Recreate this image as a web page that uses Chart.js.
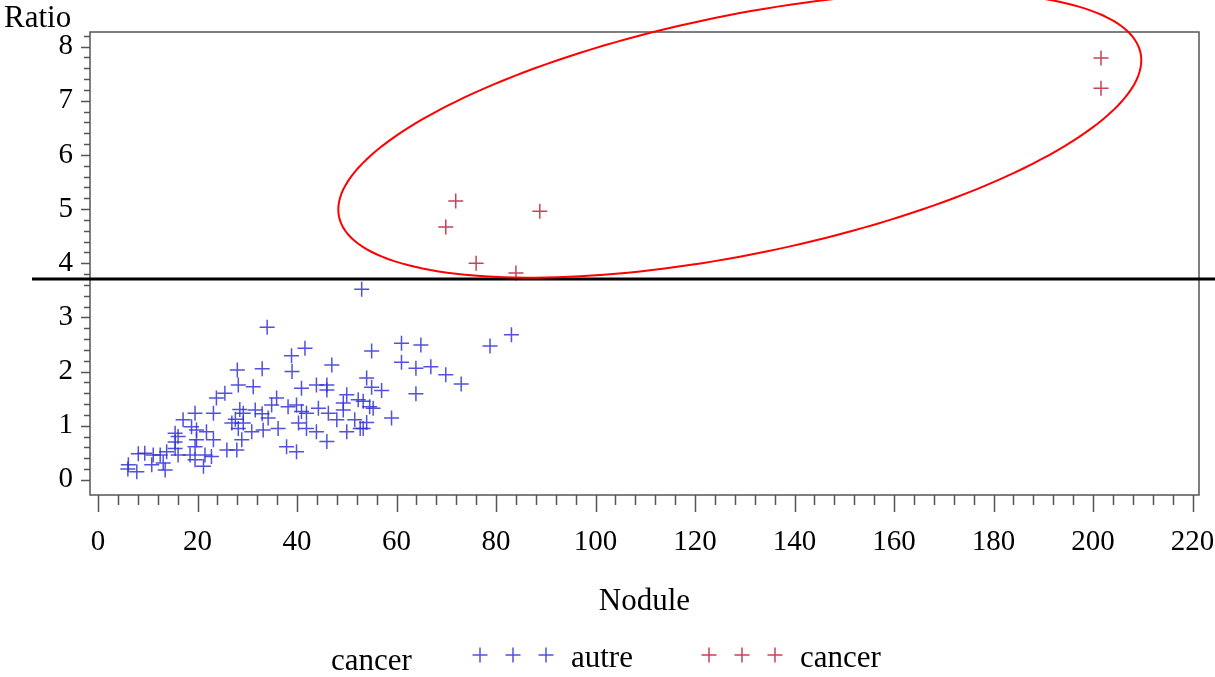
<!DOCTYPE html>
<html>
<head>
<meta charset="utf-8">
<script src="https://cdn.jsdelivr.net/npm/chart.js@4.4.1/dist/chart.umd.min.js"></script>
<style>
  body { margin: 0; background: #fff; }
  canvas { display: block; }
</style>
</head>
<body>
<canvas id="nodChart" width="1215" height="677"></canvas>
<script>
// values
const autreNodule = [6.1, 7.8, 8.1, 9.4, 10.8, 12.5, 13.5, 15.5, 15.5, 17.1, 19.5, 18.8, 19.8, 18.5, 19.5, 21.2, 19.8, 21.8, 23.2, 23.2,
    23.8, 25.5, 21.5, 22.8, 25.9, 26.9, 6.0, 11.1, 13.8, 13.1, 16.1, 15.5, 16.1, 19.5, 27.6, 28.5, 28.2, 31.2, 40.9, 43.9,
    46.0, 46.0, 35.9, 34.9, 38.2, 39.9, 40.9, 41.9, 44.3, 46.3, 50.0, 49.3, 49.3, 52.3, 48.0, 51.6, 52.7, 50.0, 43.9, 41.9,
    40.3, 46.0, 36.2, 33.2, 34.2, 31.6, 29.2, 29.2, 28.2, 30.9, 28.9, 27.9, 37.9, 39.9, 33.0, 53.0, 34.0, 41.6, 38.9, 55.0,
    47.0, 33.0, 28.0, 39.0, 54.0, 83.1, 78.8, 61.0, 64.9, 61.0, 63.9, 66.9, 69.9, 73.0, 63.9, 55.0, 57.0, 53.3, 55.3, 59.0,
    54.0, 53.3, 54.6];
const autreRatio = [0.28, 0.15, 0.48, 0.49, 0.28, 0.46, 0.18, 0.58, 0.86, 1.11, 1.23, 0.98, 0.92, 0.46, 0.37, 0.25, 0.74, 0.89, 0.74, 1.23,
    1.51, 1.60, 0.46, 0.43, 0.55, 1.05, 0.20, 0.46, 0.52, 0.31, 0.80, 0.70, 0.46, 0.61, 1.12, 1.30, 1.75, 1.72, 1.69, 1.75,
    1.75, 1.66, 1.51, 1.38, 1.35, 1.38, 1.26, 1.23, 1.32, 1.23, 1.57, 1.42, 1.29, 1.48, 1.11, 1.11, 0.95, 0.89, 0.89, 0.95,
    1.05, 0.71, 0.95, 0.92, 1.14, 1.29, 1.23, 1.05, 0.95, 0.89, 0.74, 0.55, 0.61, 0.52, 1.22, 3.52, 2.82, 2.43, 2.29, 2.38,
    2.12, 2.05, 2.03, 2.00, 1.88, 2.68, 2.47, 2.52, 2.49, 2.17, 2.06, 2.09, 1.94, 1.77, 1.59, 1.71, 1.65, 1.45, 1.32, 1.14,
    1.06, 0.95, 1.35];
const cancerNodule = [201.6, 201.6, 71.9, 69.9, 88.8, 76.0, 84.0];
const cancerRatio = [7.79, 7.23, 5.15, 4.67, 4.96, 4.00, 3.82];

const groupLabels = ['autre', 'cancer'];
const groupTitle = 'cancer';
const xTitle = 'Nodule';
const yTitle = 'Ratio';
const cutRatio = 3.71;                 // horizontal reference line
const ellipseCenter = [129.0, 6.37];   // nodule, ratio
const ellipseAxisU = [80.7, 1.378];
const ellipseAxisV = [0, 2.249];

const serif = "'Liberation Serif', 'Times New Roman', serif";
const blue = 'rgba(50, 50, 215, 0.85)';
const red = 'rgba(195, 45, 70, 0.9)';

function toPoints(xs, ys) {
    return xs.map((v, i) => ({ x: v, y: ys[i] }));
}

function plus(ctx, px, py, r, color) {
    ctx.strokeStyle = color;
    ctx.lineWidth = 1.5;
    ctx.beginPath();
    ctx.moveTo(px - r, py); ctx.lineTo(px + r, py);
    ctx.moveTo(px, py - r); ctx.lineTo(px, py + r);
    ctx.stroke();
}

const frameAndTicks = {
    id: 'frameAndTicks',
    beforeDatasetsDraw(chart) {
        const { ctx, chartArea: a, scales: { x, y } } = chart;
        ctx.save();
        ctx.strokeStyle = '#555';
        ctx.lineWidth = 1.5;
        ctx.strokeRect(a.left, a.top, a.right - a.left, a.bottom - a.top);
        ctx.beginPath();
        for (let v = 0; v <= 220; v += 4) {
            const px = Math.round(x.getPixelForValue(v)) + 0.5;
            ctx.moveTo(px, a.bottom);
            ctx.lineTo(px, a.bottom + (v % 20 === 0 ? 17 : 10));
        }
        for (let k = 0; k <= 41; k++) {
            const py = Math.round(y.getPixelForValue(k * 0.2)) + 0.5;
            ctx.moveTo(a.left, py);
            ctx.lineTo(a.left - (k % 5 === 0 ? 9 : 6), py);
        }
        ctx.stroke();
        ctx.restore();
    },
    afterDatasetsDraw(chart) {
        const { ctx, chartArea: a, scales: { x, y } } = chart;
        ctx.save();
        // reference line
        const ly = y.getPixelForValue(cutRatio);
        ctx.strokeStyle = '#000';
        ctx.lineWidth = 3;
        ctx.beginPath();
        ctx.moveTo(32, ly); ctx.lineTo(chart.width, ly);
        ctx.stroke();

        // ellipse, built from its centre and axis vectors in data units
        const cx = x.getPixelForValue(ellipseCenter[0]), cy = y.getPixelForValue(ellipseCenter[1]);
        const ux = x.getPixelForValue(ellipseCenter[0] + ellipseAxisU[0]) - cx;
        const uy = y.getPixelForValue(ellipseCenter[1] + ellipseAxisU[1]) - cy;
        const vx = x.getPixelForValue(ellipseCenter[0] + ellipseAxisV[0]) - cx;
        const vy = y.getPixelForValue(ellipseCenter[1] + ellipseAxisV[1]) - cy;
        ctx.beginPath();
        for (let i = 0; i <= 200; i++) {
            const t = i / 200 * Math.PI * 2;
            const px = cx + ux * Math.cos(t) + vx * Math.sin(t);
            const py = cy + uy * Math.cos(t) + vy * Math.sin(t);
            if (i === 0) ctx.moveTo(px, py); else ctx.lineTo(px, py);
        }
        ctx.strokeStyle = '#ff0000';
        ctx.lineWidth = 2;
        ctx.stroke();

        // axis titles
        ctx.fillStyle = '#000';
        ctx.font = `31px ${serif}`;
        ctx.textBaseline = 'alphabetic';
        ctx.textAlign = 'left';
        ctx.fillText(yTitle, 4, 27);
        ctx.textAlign = 'center';
        ctx.fillText(xTitle, (a.left + a.right) / 2, 610);

        // legend
        ctx.textAlign = 'left';
        ctx.fillText(groupTitle, 331, 670);
        [[480, blue, groupLabels[0], 571], [709, red, groupLabels[1], 800]].forEach(([x0, col, label, tx]) => {
            for (let k = 0; k < 3; k++) plus(ctx, x0 + k * 33, 655, 7.5, col);
            ctx.fillStyle = '#000';
            ctx.fillText(label, tx, 667);
        });
        ctx.restore();
    }
};

const ctx = document.getElementById('nodChart').getContext('2d');
const nodChart = new Chart(ctx, {
    type: 'scatter',
    data: {
        datasets: [
            { label: groupLabels[0], data: toPoints(autreNodule, autreRatio), pointStyle: 'cross', radius: 7.5, borderColor: blue, borderWidth: 1.5 },
            { label: groupLabels[1], data: toPoints(cancerNodule, cancerRatio), pointStyle: 'cross', radius: 7.5, borderColor: red, borderWidth: 1.5 }
        ]
    },
    options: {
        responsive: false,
        animation: false,
        layout: { padding: { left: 0, top: 32, right: 16, bottom: 0 } },
        plugins: { legend: { display: false }, tooltip: { enabled: false } },
        scales: {
            x: {
                type: 'linear', min: -1.61, max: 221.3,
                afterFit(s) { s.height = 182; s.paddingLeft = 0; s.paddingRight = 0; },
                grid: { display: false, drawTicks: false },
                border: { display: false },
                ticks: { stepSize: 20, includeBounds: false, padding: 30, maxRotation: 0, autoSkip: false, color: '#000', font: { family: serif, size: 29 } }
            },
            y: {
                type: 'linear', min: -0.28, max: 8.27,
                afterFit(s) { s.width = 90; s.paddingTop = 0; s.paddingBottom = 0; },
                grid: { display: false, drawTicks: false },
                border: { display: false },
                ticks: { stepSize: 1, includeBounds: false, padding: 17, autoSkip: false, color: '#000', font: { family: serif, size: 29 } }
            }
        }
    },
    plugins: [frameAndTicks]
});
</script>
</body>
</html>
